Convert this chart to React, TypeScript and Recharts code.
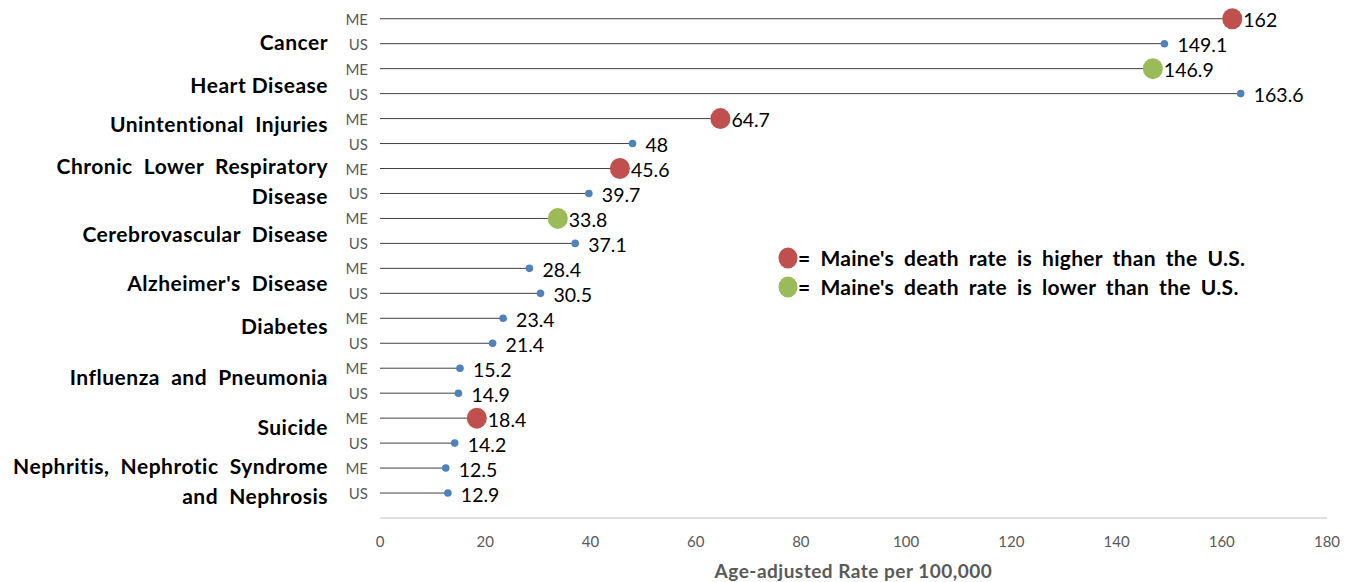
import { ComposedChart, Scatter, XAxis, YAxis, ReferenceLine, Label } from "recharts";

// Leading causes of death, Maine (ME) vs United States (US)
const diseases = [
  ["Cancer"],
  ["Heart Disease"],
  ["Unintentional  Injuries"],
  ["Chronic  Lower  Respiratory", "Disease"],
  ["Cerebrovascular  Disease"],
  ["Alzheimer's  Disease"],
  ["Diabetes"],
  ["Influenza  and  Pneumonia"],
  ["Suicide"],
  ["Nephritis,  Nephrotic  Syndrome", "and  Nephrosis"],
];
const maineRates = [162, 146.9, 64.7, 45.6, 33.8, 28.4, 23.4, 15.2, 18.4, 12.5];
const usRates = [149.1, 163.6, 48, 39.7, 37.1, 30.5, 21.4, 14.9, 14.2, 12.9];
// higher / lower = significantly different from the U.S., none = not flagged
const maineStatus = ["higher", "lower", "higher", "higher", "lower", "none", "none", "none", "higher", "none"];
const xTicks = [0, 20, 40, 60, 80, 100, 120, 140, 160, 180];

// small vertical nudges for the disease names (px)
const labelNudge = [10, 3, -8, 0, 3, 2, -5, -4, -4, 0];

const FONT = "Lato, 'Liberation Sans', sans-serif";
const RED = "#c0504d";
const GREEN = "#9bbb59";
const BLUE = "#4f81bd";
const GREY = "#595959";

const rows = diseases.flatMap((_, i) => [
  { row: i * 2, region: "ME", value: maineRates[i], status: maineStatus[i] },
  { row: i * 2 + 1, region: "US", value: usRates[i], status: "none" },
]);

const yTicks = diseases.flatMap((_, i) => [i * 2, i * 2 + 0.5, i * 2 + 1]);

const RowTick = (props: any) => {
  const { x, y, payload } = props;
  const v: number = payload.value;
  if (v % 1 !== 0) {
    const idx = Math.floor(v / 2);
    const lines = diseases[idx];
    const base = y + labelNudge[idx] - ((lines.length - 1) * 30) / 2;
    return (
      <g>
        {lines.map((ln, k) => (
          <text
            key={k}
            x={x - 40}
            y={base + k * 30}
            textAnchor="end"
            dominantBaseline="central"
            fontFamily={FONT}
            fontWeight={700}
            fontSize={21}
            letterSpacing={0.5}
            fill="#000"
            style={{ whiteSpace: "pre" }}
          >
            {ln}
          </text>
        ))}
      </g>
    );
  }
  return (
    <text x={x} y={y} textAnchor="end" dominantBaseline="central" fontFamily={FONT} fontSize={15} fill={GREY}>
      {v % 2 === 0 ? "ME" : "US"}
    </text>
  );
};

const Dot = (props: any) => {
  const { cx, cy, payload } = props;
  const big = payload.status !== "none";
  const color = payload.status === "higher" ? RED : payload.status === "lower" ? GREEN : BLUE;
  return (
    <g>
      {big ? (
        <ellipse cx={cx} cy={cy} rx={10} ry={10.5} fill={color} />
      ) : (
        <circle cx={cx} cy={cy} r={3.8} fill={color} />
      )}
      <text
        x={cx + (big ? 11 : 13)}
        y={cy + 1}
        dominantBaseline="central"
        fontFamily={FONT}
        fontSize={19.5}
        fill="#000"
      >
        {payload.value}
      </text>
    </g>
  );
};

const LegendItem = ({ color, text }: { color: string; text: string }) => (
  <div style={{ display: "flex", alignItems: "center", height: 29 }}>
    <svg width={20} height={22} style={{ display: "block" }}>
      <ellipse cx={10} cy={11} rx={9.5} ry={10.5} fill={color} />
    </svg>
    <span
      style={{
        fontFamily: FONT,
        fontWeight: 700,
        fontSize: 21,
        letterSpacing: 0.3,
        wordSpacing: 4.5,
        color: "#000",
        whiteSpace: "pre",
      }}
    >
      {text}
    </span>
  </div>
);

export default function App() {
  return (
    <div style={{ position: "absolute", left: 0, top: 0, width: 1355, height: 582, background: "#fff" }}>
      <ComposedChart width={1355} height={582} data={rows} margin={{ top: 0, right: 28, bottom: 0, left: 0 }}>
        <XAxis
          type="number"
          dataKey="value"
          domain={[0, 180]}
          ticks={xTicks}
          interval={0}
          height={64}
          tickSize={0}
          tickMargin={18}
          axisLine={{ stroke: "#bfbfbf" }}
          tick={{ fontFamily: FONT, fontSize: 15, fill: GREY }}
        >
          <Label
            value="Age-adjusted Rate per 100,000"
            position="insideBottom"
            offset={4}
            style={{ fontFamily: FONT, fontWeight: 700, fontSize: 19, letterSpacing: 0.5, fill: GREY }}
          />
        </XAxis>
        <YAxis
          type="number"
          dataKey="row"
          reversed
          domain={[-0.75, 20]}
          ticks={yTicks}
          interval={0}
          width={380}
          axisLine={false}
          tickLine={false}
          tickSize={0}
          tickMargin={12}
          tick={<RowTick />}
          allowDataOverflow
        />
        {rows.map((r) => (
          <ReferenceLine
            key={r.row}
            segment={[{ x: 0, y: r.row }, { x: r.value, y: r.row }]}
            stroke="#404040"
            strokeWidth={1}
            ifOverflow="visible"
          />
        ))}
        <Scatter data={rows} dataKey="value" shape={<Dot />} isAnimationActive={false} />
      </ComposedChart>
      <div style={{ position: "absolute", left: 778, top: 243 }}>
        <LegendItem color={RED} text="= Maine's death rate is higher than the U.S." />
        <LegendItem color={GREEN} text="= Maine's death rate is lower than the U.S." />
      </div>
    </div>
  );
}
